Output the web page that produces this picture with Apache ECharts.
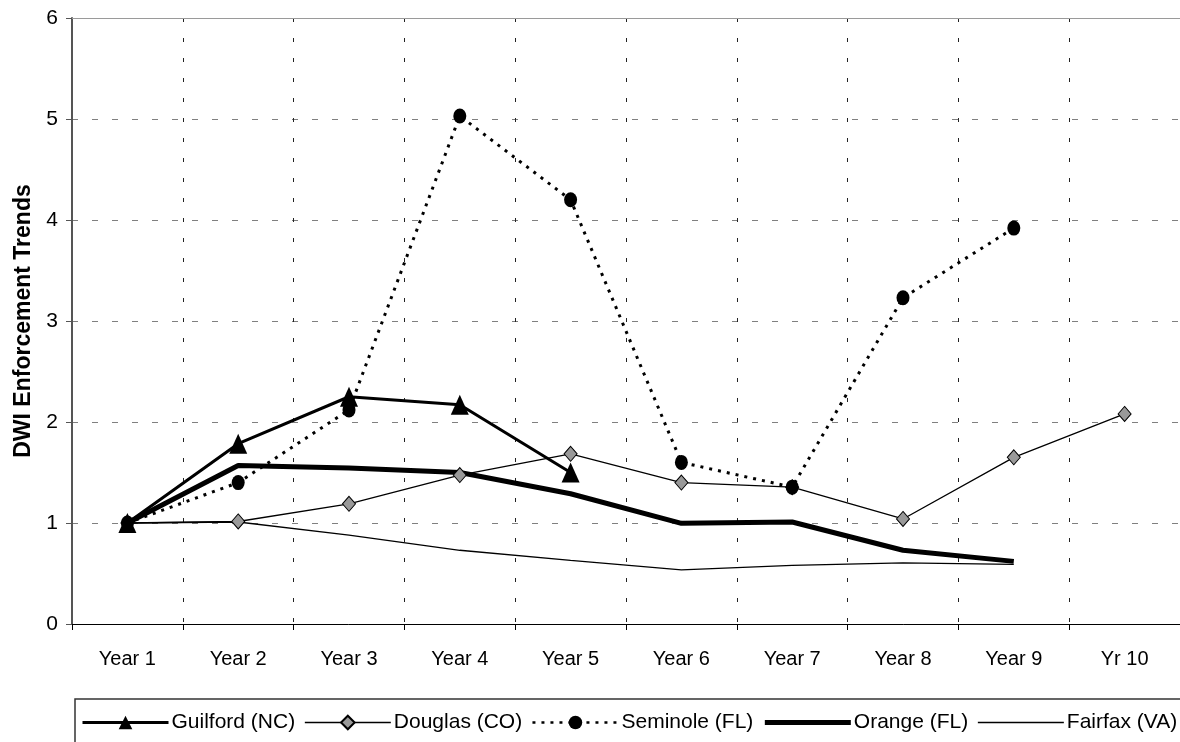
<!DOCTYPE html>
<html><head><meta charset="utf-8">
<script src="https://cdn.jsdelivr.net/npm/echarts@6/dist/echarts.min.js"></script>
<style>html,body{margin:0;padding:0;background:#fff}#c{width:1180px;height:742px}</style>
</head><body><div id="c"></div>
<script>
const categories = ['Year 1','Year 2','Year 3','Year 4','Year 5','Year 6','Year 7','Year 8','Year 9','Yr 10'];
const guilford = [1.0, 1.785, 2.25, 2.17, 1.5, null, null, null, null, null];
const douglas  = [1.0, 1.015, 1.19, 1.475, 1.685, 1.4, 1.355, 1.04, 1.65, 2.08];
const seminole = [1.0, 1.4, 2.12, 5.03, 4.2, 1.6, 1.355, 3.23, 3.92, null];
const orange   = [1.0, 1.57, 1.545, 1.5, 1.29, 0.997, 1.01, 0.73, 0.62, null];
const fairfax  = [1.0, 1.01, 0.88, 0.73, 0.63, 0.535, 0.58, 0.605, 0.59, null];
const yTicks = [0, 6, 1];

const chart = echarts.init(document.getElementById('c'), null, {renderer:'canvas'});
const font = 'Liberation Sans, Arial, sans-serif';
const hidden = {color:'rgba(0,0,0,0)', borderColor:'rgba(0,0,0,0)', borderWidth:0, opacity:0};
chart.setOption({
  animation:false,
  textStyle:{fontFamily:font},
  grid:{left:72, top:18, width:1118, height:606, show:false, containLabel:false},
  xAxis:{
    type:'category', data:categories, boundaryGap:true,
    axisLine:{lineStyle:{color:'#000', width:1}},
    axisTick:{show:true, length:6, lineStyle:{color:'#000'}},
    axisLabel:{color:'#000', fontSize:20, margin:25, fontFamily:font},
    splitLine:{show:true, lineStyle:{color:'#222', type:[4,16], width:1}}
  },
  yAxis:{
    type:'value', min:yTicks[0], max:yTicks[1], interval:yTicks[2],
    name:'DWI Enforcement Trends', nameLocation:'middle', nameGap:37, nameRotate:90,
    nameTextStyle:{fontSize:23, fontWeight:'bold', color:'#000', fontFamily:font},
    axisLine:{show:true, lineStyle:{color:'#555', width:2}},
    axisTick:{show:true, length:6, lineStyle:{color:'#555'}},
    axisLabel:{color:'#000', fontSize:21, margin:14, fontFamily:font},
    splitLine:{show:true, lineStyle:{color:'#808080', type:[6,14], width:1}}
  },
  legend:{
    left:75, top:699, width:1300, itemGap:9, itemWidth:86, itemHeight:17,
    padding:[13,10,20,6], borderColor:'#333', borderWidth:1.5,
    textStyle:{fontSize:21, color:'#000', fontFamily:font, padding:[0,0,0,-2]},
    data:[
      {name:'Guilford (NC)', lineStyle:{width:3, color:'#000'}},
      {name:'Douglas (CO)', lineStyle:{width:1.3, color:'#000'}},
      {name:'Seminole (FL)', lineStyle:{width:2.5, color:'#000', type:[3,6]}},
      {name:'Orange (FL)', itemStyle:hidden, lineStyle:{width:5, color:'#000'}},
      {name:'Fairfax (VA)', itemStyle:hidden, lineStyle:{width:1.3, color:'#000'}}
    ]
  },
  series:[
    {name:'Fairfax (VA)', type:'line', data:fairfax, showSymbol:false, symbol:'none',
     lineStyle:{color:'#000', width:1.3}, itemStyle:{color:'#000'}, z:2,
     markLine:{silent:true, symbol:['none','none'], label:{show:false},
       lineStyle:{color:'#9a9a9a', type:'solid', width:1.2}, data:[{yAxis:yTicks[1]}]}},
    {name:'Orange (FL)', type:'line', data:orange, showSymbol:false, symbol:'none',
     lineStyle:{color:'#000', width:5}, itemStyle:{color:'#000'}, z:3},
    {name:'Douglas (CO)', type:'line', data:douglas, symbol:'diamond', symbolSize:[13,15],
     lineStyle:{color:'#000', width:1.3}, itemStyle:{color:'#999', borderColor:'#000', borderWidth:1}, z:4},
    {name:'Seminole (FL)', type:'line', data:seminole, symbol:'circle', symbolSize:[13,15],
     lineStyle:{color:'#000', width:3, type:[3,6]}, itemStyle:{color:'#000'}, z:5},
    {name:'Guilford (NC)', type:'line', data:guilford, symbol:'triangle', symbolSize:[18,20],
     lineStyle:{color:'#000', width:3}, itemStyle:{color:'#000'}, z:6}
  ]
});
</script></body></html>
